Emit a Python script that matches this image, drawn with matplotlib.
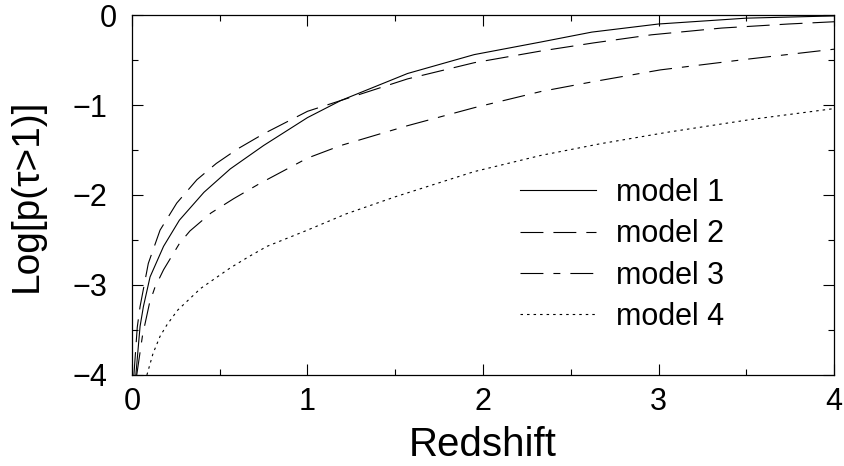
import matplotlib as mpl
mpl.use('Agg')
import matplotlib.pyplot as plt
from matplotlib.ticker import MultipleLocator

plt.rcParams['font.family'] = ['Liberation Sans', 'DejaVu Sans']
plt.rcParams['lines.scale_dashes'] = False

# log probability of tau>1 against redshift, one curve per model
z1 = [0.022, 0.046, 0.065, 0.103, 0.18, 0.27, 0.41, 0.56, 0.75, 1.0, 1.19, 1.57, 1.95, 2.33, 2.62, 3.0, 3.5, 4.0]
m1 = [-4.0, -3.46, -3.24, -2.91, -2.57, -2.28, -1.97, -1.71, -1.45, -1.14, -0.95, -0.65, -0.44, -0.30, -0.19, -0.10, -0.035, -0.01]

z2 = [0.011, 0.03, 0.046, 0.093, 0.16, 0.255, 0.37, 0.48, 0.6, 0.75, 1.0, 1.19, 1.57, 1.95, 2.33, 2.63, 2.96, 3.36, 3.74, 4.0]
m2 = [-4.0, -3.47, -3.24, -2.76, -2.39, -2.09, -1.83, -1.65, -1.49, -1.32, -1.07, -0.95, -0.71, -0.53, -0.40, -0.31, -0.22, -0.145, -0.10, -0.075]

z3 = [0.027, 0.06, 0.1, 0.13, 0.18, 0.27, 0.33, 0.45, 0.58, 0.73, 1.0, 1.19, 1.57, 1.95, 2.33, 2.63, 3.01, 3.51, 4.0]
m3 = [-4.0, -3.56, -3.2, -3.03, -2.83, -2.54, -2.40, -2.20, -2.04, -1.87, -1.59, -1.45, -1.23, -1.03, -0.85, -0.74, -0.61, -0.49, -0.38]

z4 = [0.085, 0.12, 0.16, 0.2, 0.26, 0.39, 0.56, 0.67, 0.77, 1.0, 1.22, 1.5, 1.95, 2.33, 2.67, 3.06, 3.53, 4.0]
m4 = [-4.0, -3.76, -3.57, -3.44, -3.28, -3.04, -2.81, -2.68, -2.57, -2.39, -2.21, -2.02, -1.74, -1.56, -1.43, -1.30, -1.16, -1.04]

labels = ['model 1', 'model 2', 'model 3', 'model 4']

fig = plt.figure(figsize=(8.45, 4.66), dpi=100)
ax = fig.add_axes([0.1562, 0.1953, 0.8308, 0.7725])

lw = 0.8
ax.plot(z1, m1, color='black', lw=lw, label=labels[0])
ax.plot(z2, m2, color='black', lw=lw, dashes=(16.5, 7.2), label=labels[1])
ax.plot(z3, m3, color='black', lw=lw, dashes=(16.5, 7.2, 5, 7.2), label=labels[2])
ax.plot(z4, m4, color='black', lw=lw, dashes=(1.8, 2.9), label=labels[3])

ax.set_xlim(0, 4)
ax.set_ylim(-4, 0)
ax.xaxis.set_major_locator(MultipleLocator(1))
ax.xaxis.set_minor_locator(MultipleLocator(0.5))
ax.yaxis.set_major_locator(MultipleLocator(1))
ax.yaxis.set_minor_locator(MultipleLocator(0.5))
ax.tick_params(which='both', direction='in', top=True, right=True, width=0.8, labelsize=22)
ax.tick_params(which='major', length=8)
ax.tick_params(which='minor', length=4)
ax.tick_params(axis='x', pad=9)
ax.tick_params(axis='y', pad=18)
for s in ax.spines.values():
    s.set_linewidth(0.9)

ax.set_xlabel('Redshift', fontsize=29, labelpad=6)
ax.set_ylabel('Log[p(\u03c4>1)]', fontsize=28, labelpad=20)

# the "0" label sits a bit closer to the axis than the negative ones
yt = ax.yaxis.get_major_ticks()
for t, v in zip(yt, ax.get_yticks()):
    if v == 0:
        t.set_pad(11)

ax.legend(loc='upper left', bbox_to_anchor=(0.615, 0.618), bbox_transform=fig.transFigure,
          frameon=False, fontsize=22, handlelength=2.5, handletextpad=0.65,
          labelspacing=0.37, borderpad=0, borderaxespad=0)

fig.savefig('out.png', dpi=100)
